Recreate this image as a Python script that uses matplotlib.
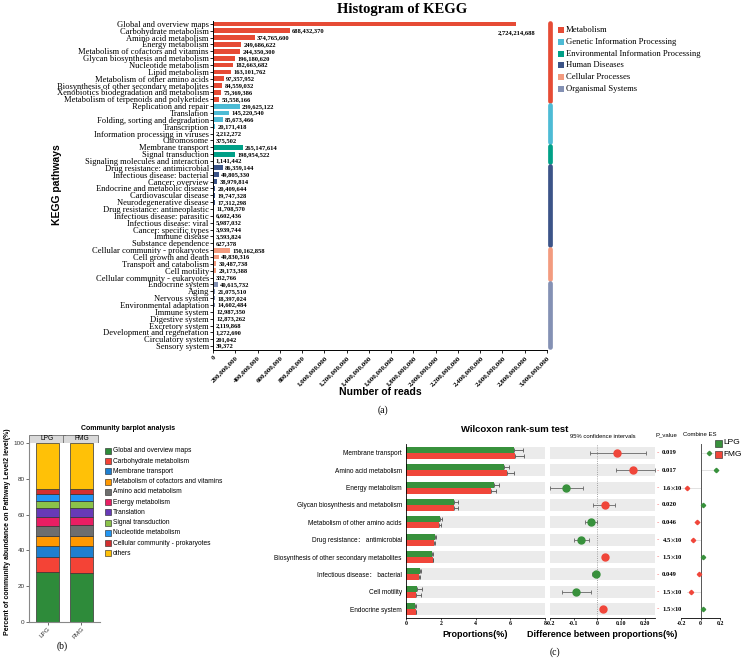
import numpy as np
import matplotlib
matplotlib.use('Agg')
import matplotlib.pyplot as plt
from matplotlib.patches import Rectangle
from matplotlib.transforms import blended_transform_factory

plt.rcParams['font.family'] = ['Liberation Serif', 'DejaVu Serif']
plt.rcParams['mathtext.fontset'] = 'stix'
SANS = ['Liberation Sans', 'Noto Sans CJK SC', 'DejaVu Sans']

# ---------------- (a) KEGG histogram data ----------------
pathways = [
    'Global and overview maps', 'Carbohydrate metabolism', 'Amino acid metabolism',
    'Energy metabolism', 'Metabolism of cofactors and vitamins',
    'Glycan biosynthesis and metabolism', 'Nucleotide metabolism', 'Lipid metabolism',
    'Metabolism of other amino acids', 'Biosynthesis of other secondary metabolites',
    'Xenobiotics biodegradation and metabolism', 'Metabolism of terpenoids and polyketides',
    'Replication and repair', 'Translation', 'Folding, sorting and degradation',
    'Transcription', 'Information processing in viruses', 'Chromosome',
    'Membrane transport', 'Signal transduction', 'Signaling molecules and interaction',
    'Drug resistance: antimicrobial', 'Infectious disease: bacterial', 'Cancer: overview',
    'Endocrine and metabolic disease', 'Cardiovascular disease', 'Neurodegenerative disease',
    'Drug resistance: antineoplastic', 'Infectious disease: parasitic',
    'Infectious disease: viral', 'Cancer: specific types', 'Immune disease',
    'Substance dependence',
    'Cellular community - prokaryotes', 'Cell growth and death', 'Transport and catabolism',
    'Cell motility', 'Cellular community - eukaryotes',
    'Endocrine system', 'Aging', 'Nervous system', 'Environmental adaptation',
    'Immune system', 'Digestive system', 'Excretory system',
    'Development and regeneration', 'Circulatory system', 'Sensory system']
reads = [
    2724214688, 688432370, 374765600, 249686622, 244350300, 196180620, 182663682,
    163101762, 97357952, 84559032, 75369386, 53558166,
    239625122, 145220540, 85673466, 20171418, 2212272, 375502,
    265147614, 198954522, 1141442,
    86359144, 49805330, 38979814, 20409644, 19747328, 17312298, 11708570, 6602436,
    5987032, 3939744, 3593824, 627378,
    150162858, 49830316, 30487738, 29173388, 332766,
    40615732, 21075510, 18397024, 14602484, 12987350, 12873262, 2119868, 1272690,
    201042, 39372]
level1 = ['Metabolism', 'Genetic Information Processing',
          'Environmental Information Processing', 'Human Diseases',
          'Cellular Processes', 'Organismal Systems']
level1_counts = [12, 6, 3, 12, 5, 10]
level1_colors = ['#E64B35', '#4DBBD5', '#00A087', '#3C5488', '#F39B7F', '#8491B4']
xticks_a = np.arange(0, 3000000001, 200000000)

# ---------------- (b) community barplot data ----------------
comm_names = ['Global and overview maps', 'Carbohydrate metabolism', 'Membrane transport',
              'Metabolism of cofactors and vitamins', 'Amino acid metabolism',
              'Energy metabolism', 'Translation', 'Signal transduction',
              'Nucleotide metabolism', 'Cellular community - prokaryotes', 'others']
comm_colors = ['#2E8B3A', '#F44336', '#1E7FD0', '#FF9800', '#6E6E6E', '#E91E63',
               '#673AB7', '#8BC34A', '#2196F3', '#D32F2F', '#FFC107']
groups = ['LPG', 'FMG']
lpg_pct = [27.7, 8.4, 6.3, 5.8, 5.6, 5.1, 4.7, 3.9, 3.9, 2.8, 25.8]
fmg_pct = [27.6, 8.5, 6.4, 5.7, 5.8, 4.9, 4.7, 3.9, 3.9, 2.8, 25.8]

# ---------------- (c) Wilcoxon data ----------------
w_names = ['Membrane transport', 'Amino acid metabolism', 'Energy metabolism',
           'Glycan biosynthesis and metabolism', 'Metabolism of other amino acids',
           'Drug resistance\uff1a antimicrobial', 'Biosynthesis of other secondary metabolites',
           'Infectious disease\uff1a bacterial', 'Cell motility', 'Endocrine system']
lpg_mean = [6.20, 5.65, 5.04, 2.78, 1.95, 1.65, 1.49, 0.80, 0.63, 0.54]
lpg_err = [0.55, 0.27, 0.30, 0.20, 0.10, 0.10, 0.05, 0.05, 0.29, 0.05]
fmg_mean = [6.28, 5.79, 4.89, 2.79, 1.91, 1.59, 1.53, 0.77, 0.57, 0.55]
fmg_err = [0.50, 0.43, 0.30, 0.20, 0.10, 0.10, 0.05, 0.05, 0.30, 0.05]
diff = [0.084, 0.150, -0.131, 0.032, -0.028, -0.068, 0.031, -0.008, -0.092, 0.024]
ci_lo = [-0.032, 0.077, -0.200, -0.017, -0.051, -0.100, 0.018, -0.023, -0.151, 0.015]
ci_hi = [0.204, 0.242, -0.059, 0.076, -0.003, -0.035, 0.045, 0.007, -0.028, 0.036]
pvals = ['0.019', '0.017', r'1.6$\times$10$^{-4}$', '0.020', '0.046',
         r'4.5$\times$10$^{-4}$', r'1.5$\times$10$^{-4}$', '0.049',
         r'1.5$\times$10$^{-3}$', r'1.5$\times$10$^{-3}$']
es = [0.087, 0.160, -0.140, 0.030, -0.035, -0.075, 0.028, -0.012, -0.100, 0.025]
es_lo = [0.0, 0.0, -0.20, 0.0, -0.07, -0.10, 0.0, -0.04, -0.14, 0.0]
es_hi = [0.13, 0.20, 0.0, 0.05, 0.0, 0.0, 0.05, 0.0, 0.0, 0.05]
diff_ticks = [-0.2, -0.1, 0, 0.1, 0.2]
diff_ticklabels = ['-0.2', '-0.1', '0', '0.10', '0.20']

W, H = 742, 662
GREEN, RED = '#38913C', '#F0463A'


def rect(l, t, r, b):
    return [l / W, 1 - b / H, (r - l) / W, (b - t) / H]


fig = plt.figure(figsize=(W / 100, H / 100), dpi=100)

# ======================= (a) =======================
ax = fig.add_axes(rect(213, 20.5, 547, 349.5))
n = len(pathways)
ypos = np.arange(n)
bar_cols = []
for c, k in zip(level1_colors, level1_counts):
    bar_cols += [c] * k
ax.barh(ypos, reads, height=0.7, color=bar_cols)
ax.set_ylim(n - 0.5, -0.5)
ax.set_xlim(0, 3e9)
ax.set_yticks(ypos)
ax.set_yticklabels(pathways, fontsize=6.1)
ax.set_xticks(xticks_a)
ax.set_xticklabels([f'{v:,}' for v in xticks_a], rotation=45, ha='right',
                   rotation_mode='anchor', fontsize=5.0, fontweight='bold')
ax.tick_params(axis='y', length=2, width=0.6, pad=1)
ax.tick_params(axis='x', length=2, width=0.6, pad=2)
for s in ['top', 'right']:
    ax.spines[s].set_visible(False)
for s in ['left', 'bottom']:
    ax.spines[s].set_linewidth(0.7)
for i, v in enumerate(reads):
    if i == 0:
        ax.text(v, i + 1.2, f'{v:,}', va='center', ha='center', fontsize=4.7,
                fontweight='bold')
    else:
        ax.text(v + 2.2e7, i, f'{v:,}', va='center', ha='left', fontsize=4.7,
                fontweight='bold')
ax.set_xlabel('Number of reads', family=SANS, fontsize=7.5, fontweight='bold', labelpad=0)
btr = blended_transform_factory(ax.transAxes, ax.transData)
start = 0
for c, k in zip(level1_colors, level1_counts):
    ax.plot([1.008, 1.008], [start - 0.2, start + k - 0.8], color=c, lw=3.4,
            solid_capstyle='round', transform=btr, clip_on=False)
    start += k

# ======================= (b) =======================
bx = fig.add_axes(rect(29, 443, 100, 622))
bottom = np.zeros(2)
for name, a, b, c in zip(comm_names, lpg_pct, fmg_pct, comm_colors):
    bx.bar([0, 1], [a, b], bottom=bottom, width=0.68, color=c, edgecolor='#333333',
           linewidth=0.5)
    bottom += np.array([a, b])
bx.set_xlim(-0.55, 1.55)
bx.set_ylim(0, 100)
bx.set_xticks([0, 1])
bx.set_xticklabels(groups, rotation=45, ha='right', rotation_mode='anchor',
                   fontsize=4.8, family=SANS)
bx.set_yticks([0, 20, 40, 60, 80, 100])
bx.tick_params(labelsize=4.6, length=2, width=0.5, pad=1, colors='#333333')
for lab in bx.get_yticklabels():
    lab.set_family(SANS)
for s in ['top', 'right']:
    bx.spines[s].set_visible(False)
for s in ['left', 'bottom']:
    bx.spines[s].set_color('#888888')
    bx.spines[s].set_linewidth(0.8)
# facet strip
sx = fig.add_axes(rect(29, 435, 100, 443))
sx.set_xlim(-0.55, 1.55)
sx.set_ylim(0, 1)
sx.axis('off')
for i, g in enumerate(groups):
    sx.add_patch(Rectangle((i - 0.55, 0), 1.05, 1, facecolor='#D9D9D9',
                           edgecolor='#555555', lw=0.5))
    sx.text(i, 0.5, g, ha='center', va='center', fontsize=4.8, family=SANS)

# ======================= (c) =======================
rows = np.arange(len(w_names))
cx = fig.add_axes(rect(406, 444.3, 545, 617.7))
cx.barh(rows, 8, height=0.7, color='#EBEBEB', zorder=0)
ekw = dict(ecolor='#555555', elinewidth=0.6, capsize=1.5, capthick=0.6)
cx.barh(rows - 0.175, lpg_mean, height=0.35, color=GREEN, zorder=2,
        xerr=[np.zeros(len(rows)), lpg_err], error_kw=ekw)
cx.barh(rows + 0.175, fmg_mean, height=0.35, color=RED, zorder=2,
        xerr=[np.zeros(len(rows)), fmg_err], error_kw=ekw)
cx.set_xlim(0, 8)
cx.set_ylim(len(rows) - 0.5, -0.5)
cx.set_yticks(rows)
cx.set_yticklabels(w_names, fontsize=4.7, family=SANS)
cx.set_xticks([0, 2, 4, 6, 8])
cx.tick_params(axis='x', labelsize=4.2, length=1.5, width=0.5, pad=1)
cx.tick_params(axis='y', length=0, pad=3)
for lab in cx.get_xticklabels():
    lab.set_fontweight('bold')
for s in ['top', 'right']:
    cx.spines[s].set_visible(False)
for s in ['left', 'bottom']:
    cx.spines[s].set_linewidth(0.6)
cx.set_xlabel('Proportions(%)', family=SANS, fontsize=6.5, fontweight='bold', labelpad=3)

dx = fig.add_axes(rect(550, 444.3, 655, 617.7))
dx.barh(rows, 0.443, left=-0.2, height=0.7, color='#EBEBEB', zorder=0)
dx.axvline(0, color='#888888', lw=0.6, ls=':', zorder=1)
for i in rows:
    col = RED if diff[i] > 0 else GREEN
    dx.errorbar(diff[i], i, xerr=[[diff[i] - ci_lo[i]], [ci_hi[i] - diff[i]]], fmt='o',
                color=col, markersize=5, ecolor='#666666', elinewidth=0.6, capsize=1.5,
                capthick=0.6, zorder=3)
dx.set_xlim(-0.2, 0.243)
dx.set_ylim(len(rows) - 0.5, -0.5)
dx.set_yticks([])
dx.set_xticks(diff_ticks)
dx.set_xticklabels(diff_ticklabels, fontsize=4.2, fontweight='bold')
dx.tick_params(axis='x', length=1.5, width=0.5, pad=1)
for s in ['top', 'right', 'left']:
    dx.spines[s].set_visible(False)
dx.spines['bottom'].set_linewidth(0.6)
dx.set_xlabel('Difference between proportions(%)', family=SANS, fontsize=6.5,
              fontweight='bold', labelpad=3)
dtr = blended_transform_factory(dx.transAxes, dx.transData)
for i, p in enumerate(pvals):
    dx.text(1.012, i, '-', color='#F06060', fontsize=5, ha='left', va='center',
            transform=dtr)
    dx.text(1.065, i, p, fontsize=4.8, fontweight='bold', ha='left', va='center',
            transform=dtr)

ex = fig.add_axes(rect(681, 444.3, 720, 617.7))
ex.axvline(0, color='#555555', lw=0.7)
for i in rows:
    col = GREEN if es[i] > 0 else RED
    ex.plot([es_lo[i], es_hi[i]], [i, i], color='#DDDDDD', lw=0.6, zorder=1)
    ex.plot(es[i], i, marker='D', color=col, markersize=2.2, zorder=2)
ex.set_xlim(-0.2, 0.2)
ex.set_ylim(len(rows) - 0.5, -0.5)
ex.set_yticks([])
ex.set_xticks([-0.2, 0, 0.2])
ex.set_xticklabels(['-0.2', '0', '0.2'], fontsize=4.2, fontweight='bold')
ex.tick_params(axis='x', length=1.5, width=0.5, pad=1)
for s in ['top', 'right', 'left']:
    ex.spines[s].set_visible(False)
ex.spines['bottom'].set_linewidth(0.6)

# ======================= overlay texts =======================
ov = fig.add_axes([0, 0, 1, 1])
ov.set_xlim(0, W)
ov.set_ylim(H, 0)
ov.axis('off')
ov.text(402, 10, 'Histogram of KEGG', ha='center', va='center', fontsize=10.5,
        fontweight='bold')
ov.text(57, 185, 'KEGG pathways', rotation=90, ha='center', va='center', family=SANS,
        fontsize=7.5, fontweight='bold')
ov.text(383, 410, '(a)', ha='center', va='center', fontsize=7)
for i, (name, c) in enumerate(zip(level1, level1_colors)):
    yy = 30 + i * 11.8
    ov.add_patch(Rectangle((558, yy - 3), 6, 6, facecolor=c, edgecolor='none'))
    ov.text(566, yy, name, ha='left', va='center', fontsize=6.2)

ov.text(128, 428, 'Community barplot analysis', ha='center', va='center', family=SANS,
        fontsize=5, fontweight='bold')
ov.text(8, 532, 'Percent of community abundance on Pathway Level2 level(%)', rotation=90,
        ha='center', va='center', family=SANS, fontsize=5, fontweight='bold')
for i, (name, c) in enumerate(zip(comm_names, comm_colors)):
    yy = 451 + i * 10.23
    ov.add_patch(Rectangle((105, yy - 3), 6, 6, facecolor=c, edgecolor='#222222', lw=0.4))
    ov.text(113, yy, name, ha='left', va='center', family=SANS, fontsize=4.8)
ov.text(62, 646, '(b)', ha='center', va='center', fontsize=7)

ov.text(515, 429, 'Wilcoxon rank-sum test', ha='center', va='center', family=SANS,
        fontsize=6.8, fontweight='bold')
ov.text(603, 436, '95% confidence intervals', ha='center', va='center', family=SANS,
        fontsize=4.2)
ov.text(666, 435, 'P_value', ha='center', va='center', family=SANS, fontsize=4.3)
ov.text(700, 435, 'Combine ES', ha='center', va='center', family=SANS, fontsize=4.3)
for i, (g, c) in enumerate(zip(groups, [GREEN, RED])):
    yy = 443 + i * 11
    ov.add_patch(Rectangle((715, yy - 3.5), 7, 7, facecolor=c, edgecolor='#222222', lw=0.4))
    ov.text(723, yy, g, ha='left', va='center', family=SANS, fontsize=6)
ov.text(555, 652, '(c)', ha='center', va='center', fontsize=7)

fig.savefig('out.png', dpi=100)
